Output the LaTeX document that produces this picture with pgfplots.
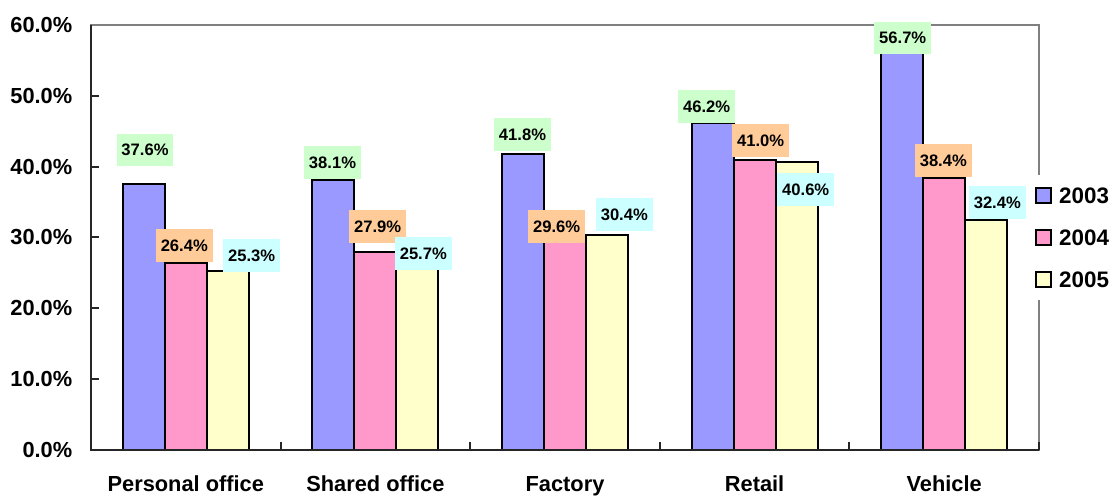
\documentclass[border=0pt]{standalone}
\usepackage{fontspec}
\setmainfont{Liberation Sans}
\usepackage{pgfplots}
\pgfplotsset{compat=1.18}
\usepackage{pgfplotstable}
\definecolor{cA}{HTML}{9999FF}
\definecolor{cB}{HTML}{FF99CC}
\definecolor{cC}{HTML}{FFFFCC}
\definecolor{lA}{HTML}{CCFFCC}
\definecolor{lB}{HTML}{FFCC99}
\definecolor{lC}{HTML}{CCFFFF}
\definecolor{axgray}{HTML}{808080}

\pgfplotstableread{
x y dx dy
0 37.6 1.2 33.7
1 38.1 -0.9 17.4
2 41.8 -0.5 19.5
3 46.2 -5.9 16.6
4 56.7 0.5 10.4
}\tA
\pgfplotstableread{
x y dx dy
0 26.4 -1.5 17.7
1 27.9 2.3 26.1
2 29.6 -8.3 14.0
3 41.0 6.1 19.3
4 38.4 -0.9 17.5
}\tB
\pgfplotstableread{
x y dx dy
0 25.3 23.9 15.5
1 25.7 5.9 14.3
2 30.4 17.3 20.2
3 40.6 9.1 -26.9
4 32.4 11.1 18.3
}\tC

\begin{document}
\begin{tikzpicture}
\begin{axis}[
  scale only axis, width=474pt, height=212.5pt,
  at={(0,0)}, anchor=south west,
  xmin=-0.5, xmax=4.5, ymin=0, ymax=60,
  ybar=0pt, bar width=21pt,
  clip=false,
  /pgf/number format/assume math mode=true,
  axis line style={draw=axgray, line width=1pt},
  xtick={0,...,4},
  xticklabels={Personal office, Shared office, Factory, Retail, Vehicle},
  xtick style={draw=none},
  extra x ticks={-0.5,0.5,1.5,2.5,3.5,4.5},
  extra x tick labels={},
  extra x tick style={xtick style={draw=black!85, line width=1pt}},
  ytick={0,10,...,60},
  yticklabel={\pgfmathprintnumber[fixed,fixed zerofill,precision=1]{\tick}\%},
  ytick style={draw=black!85, line width=1pt},
  xtick pos=bottom, ytick pos=left,
  tick align=inside,
  major tick length=4pt,
  yticklabel style={font=\fontsize{10.9}{12}\selectfont\bfseries, anchor=east, inner sep=0pt, xshift=-9.2pt},
  xticklabel style={font=\fontsize{10.9}{12}\selectfont\bfseries, anchor=base, inner sep=0pt, yshift=-20.8pt},
  every axis plot/.append style={draw=black, line width=1pt},
  nodes near coords={\pgfmathprintnumber[fixed,fixed zerofill,precision=1]{\pgfplotspointmeta}\%},
  visualization depends on={\thisrow{dx} \as \labeldx},
  visualization depends on={\thisrow{dy} \as \labeldy},
  nodes near coords style={anchor=center, xshift=0.5pt*\labeldx, yshift=0.5pt*\labeldy,
     font=\fontsize{8.3}{9}\selectfont\bfseries, text=black, text height=6pt, text depth=0pt,
     inner xsep=2.4pt, inner ysep=5.2pt, line width=0pt},
  legend image code/.code={\draw[#1, line width=0.7pt] (0pt,-3.75pt) rectangle (7.5pt,3.75pt);},
  legend style={at={(0.9916,0.647)}, anchor=north west, draw=none, fill=white,
     inner xsep=2pt, inner ysep=6pt, row sep=12.8pt,
     font=\fontsize{11.2}{12}\selectfont\bfseries,
     nodes={inner sep=0pt, text height=8pt, text depth=0pt},
     /tikz/every odd column/.append style={column sep=3.7pt}},
  legend cell align=left,
]
\addplot[fill=cA, nodes near coords style={fill=lA}] table[x=x,y=y] {\tA};
\addplot[fill=cB, nodes near coords style={fill=lB}] table[x=x,y=y] {\tB};
\addplot[fill=cC, nodes near coords style={fill=lC}] table[x=x,y=y] {\tC};
\draw[black!85, line width=1pt] (rel axis cs:0,1) -- (rel axis cs:0,0) -- (rel axis cs:1,0);
\legend{2003,2004,2005}
\end{axis}
\pgfresetboundingbox
\path (-45.5pt,-23pt) rectangle (510.5pt,225pt);
\end{tikzpicture}
\end{document}
